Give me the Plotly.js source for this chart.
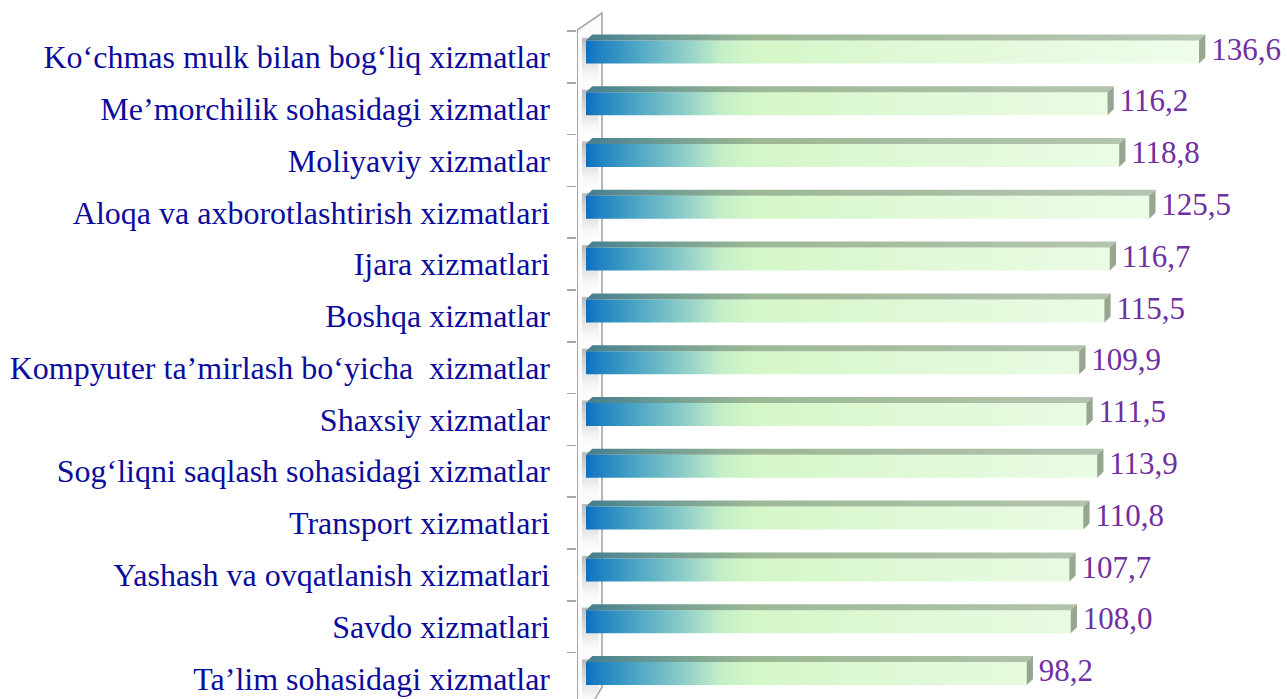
<!DOCTYPE html>
<html>
<head>
<meta charset="utf-8">
<script src="https://cdn.plot.ly/plotly-3.0.1.min.js"></script>
<style>html,body{margin:0;padding:0;background:#fff;}#chart{width:1287px;height:699px;}</style>
</head>
<body>
<div id="chart"></div>
<script>
// ---- data ----
const categories = [
  "Ko\u2018chmas mulk bilan bog\u2018liq xizmatlar",
  "Me\u2019morchilik sohasidagi xizmatlar",
  "Moliyaviy xizmatlar",
  "Aloqa va axborotlashtirish xizmatlari",
  "Ijara xizmatlari",
  "Boshqa xizmatlar",
  "Kompyuter ta\u2019mirlash bo\u2018yicha  xizmatlar",
  "Shaxsiy xizmatlar",
  "Sog\u2018liqni saqlash sohasidagi xizmatlar",
  "Transport xizmatlari",
  "Yashash va ovqatlanish xizmatlari",
  "Savdo xizmatlari",
  "Ta\u2019lim sohasidagi xizmatlar"
];
const values = [136.6, 116.2, 118.8, 125.5, 116.7, 115.5, 109.9, 111.5, 113.9, 110.8, 107.7, 108.0, 98.2];
const valueLabels = values.map(v => v.toFixed(1).replace('.', ','));

// ---- geometry (in axis units) ----
const OFF = 0.0965;     // front face centre shift (up) from category centre
const HALF = 0.222;     // half height of front face
const DX = 1.4;         // depth offset to the right
const DY = 0.116;       // depth offset upward
const GRAD_STOP = 137;

const frontScale = [[0,'#0c70c2'],[0.02,'#1f80c2'],[0.08,'#4aa5c4'],[0.15,'#86c9c9'],[0.22,'#c4efc8'],[0.28,'#d5f7c8'],[0.6,'#e2f9da'],[1,'#effde9']];
const topScale = [[0,'#457e8f'],[0.12,'#6e9c94'],[0.27,'#9cb895'],[1,'#bac8b5']];
const shadowScale = [[0,'rgba(140,140,140,0.55)'],[0.6,'rgba(190,190,190,0.3)'],[1,'rgba(255,255,255,0)']];

const traces = [];
values.forEach((v, i) => {
  const yc = i - OFF;
  const ft = yc - HALF, fb = yc + HALF;
  // soft shadow on the wall
  traces.push({
    type:'scatter', mode:'lines', x:[-0.9, 2.8, 2.8, -0.9, -0.9], y:[fb+0.42, fb+0.42, ft-0.05, ft-0.05, fb+0.42],
    fill:'toself', line:{width:0}, hoverinfo:'skip', showlegend:false,
    fillgradient:{type:'vertical', start:ft, stop:fb+0.42, colorscale:shadowScale}
  });
  // front face
  traces.push({
    type:'scatter', mode:'lines', x:[0, v, v, 0, 0], y:[fb, fb, ft, ft, fb],
    fill:'toself', line:{width:0}, hoverinfo:'skip', showlegend:false,
    fillgradient:{type:'horizontal', start:0, stop:GRAD_STOP, colorscale:frontScale}
  });
  // top face
  traces.push({
    type:'scatter', mode:'lines', x:[0, v, v+DX, DX, 0], y:[ft, ft, ft-DY, ft-DY, ft],
    fill:'toself', line:{width:0}, hoverinfo:'skip', showlegend:false,
    fillgradient:{type:'horizontal', start:0, stop:GRAD_STOP, colorscale:topScale}
  });
  // end face
  traces.push({
    type:'scatter', mode:'lines', x:[v, v+DX, v+DX, v, v], y:[fb, fb-DY, ft-DY, ft, fb],
    fill:'toself', fillcolor:'#97a68f', line:{width:0}, hoverinfo:'skip', showlegend:false
  });
});
// value labels
traces.push({
  type:'scatter', mode:'text', x:values.map(v => v + DX + 1.3), y:values.map((v,i) => i - OFF),
  text:valueLabels, textposition:'middle right', cliponaxis:false, hoverinfo:'skip', showlegend:false,
  textfont:{family:'Liberation Serif, Times New Roman, serif', size:31, color:'#7030a0'}
});

const idx = categories.map((c,i) => i);
const bounds = categories.map((c,i) => i - 0.5);

const WALL_L = -1.95, WALL_R = 3.566;
const layout = {
  width:1287, height:699,
  margin:{l:577, r:0, t:0, b:0},
  paper_bgcolor:'#ffffff', plot_bgcolor:'rgba(0,0,0,0)',
  xaxis:{range:[-2.006, 156.2], visible:false, fixedrange:true},
  yaxis:{
    range:[12.396, -1.0985], tickmode:'array', tickvals:idx, ticktext:categories,
    ticks:'', showgrid:false, zeroline:false, showline:false, ticklabelstandoff:26,
    tickfont:{family:'Liberation Serif, Times New Roman, serif', size:32, color:'#0c0c9c'},
    minor:{tickmode:'array', tickvals:bounds, ticks:'outside', ticklen:9, tickwidth:1.5, tickcolor:'#a6a6a6', showgrid:false},
    fixedrange:true
  },
  shapes:[
    {type:'path', xref:'x', yref:'y', layer:'below',
     path:`M ${WALL_L},13 L ${WALL_L},-0.519 L ${WALL_R},-0.847 L ${WALL_R},12.164 Z`,
     fillcolor:'#fcfcfc', line:{color:'#a6a6a6', width:1.6}}
  ],
  showlegend:false
};

Plotly.newPlot('chart', traces, layout, {displayModeBar:false, staticPlot:true});
</script>
</body>
</html>
